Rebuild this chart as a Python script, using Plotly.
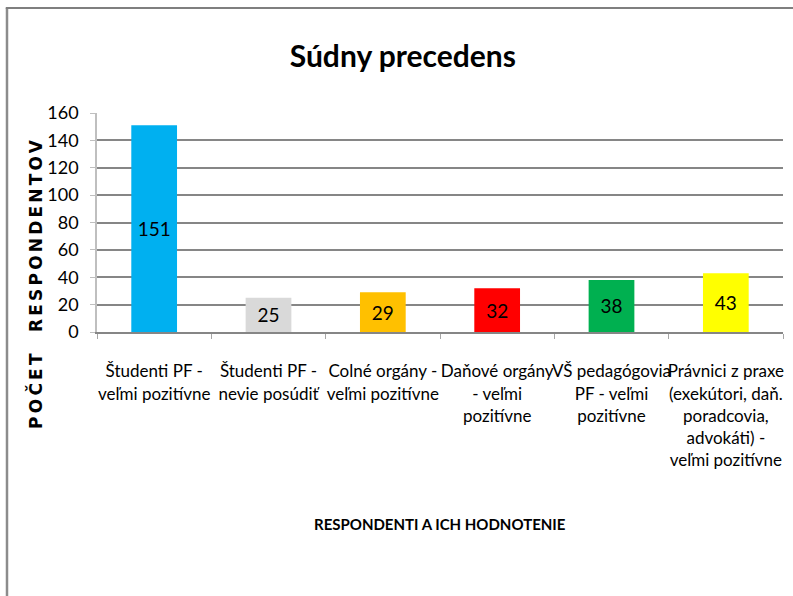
import plotly.graph_objects as go

categories = [
    "Študenti PF -<br>veľmi pozitívne",
    "Študenti PF -<br>nevie posúdiť",
    "Colné orgány -<br>veľmi pozitívne",
    "Daňové orgány<br>- veľmi<br>pozitívne",
    "VŠ pedagógovia<br>PF - veľmi<br>pozitívne",
    "Právnici z praxe<br>(exekútori, daň.<br>poradcovia,<br>advokáti) -<br>veľmi pozitívne",
]
values = [151, 25, 29, 32, 38, 43]
bar_colors = ["#00B0F0", "#D9D9D9", "#FFC000", "#FF0000", "#00B050", "#FFFF00"]
y_ticks = [0, 20, 40, 60, 80, 100, 120, 140, 160]

font_main = "Lato, Liberation Sans, sans-serif"

fig = go.Figure(
    go.Bar(
        x=categories,
        y=values,
        marker=dict(color=bar_colors, line=dict(width=0)),
        text=values,
        textposition="inside",
        insidetextanchor="middle",
        textangle=0,
        textfont=dict(family=font_main, size=19, color="black"),
    )
)

fig.update_xaxes(
    automargin=False,
    tickangle=0,
    showgrid=False,
    showline=True,
    linecolor="#868686",
    linewidth=2,
    ticks="outside",
    tickson="boundaries",
    ticklen=5,
    tickcolor="#A6A6A6",
    tickfont=dict(family=font_main, size=17, color="black"),
    ticklabelstandoff=23,
)

fig.update_yaxes(
    automargin=False,
    range=[0, 160],
    tickvals=y_ticks,
    showgrid=True,
    gridcolor="#868686",
    gridwidth=1.5,
    zeroline=False,
    showline=True,
    linecolor="#BFBFBF",
    linewidth=1.5,
    ticks="outside",
    ticklen=5,
    tickcolor="#BFBFBF",
    tickfont=dict(family=font_main, size=18, color="black"),
    ticklabelstandoff=8,
)

fig.add_annotation(
    text='<b><span style="letter-spacing:3.2px">POČET  RESPONDENTOV</span></b>',
    xref="paper", yref="paper",
    x=-0.089, y=0.224,
    xanchor="center", yanchor="middle",
    textangle=-90,
    showarrow=False,
    font=dict(family="DejaVu Sans", size=17, color="black"),
)
fig.add_annotation(
    text="<b>RESPONDENTI A ICH HODNOTENIE</b>",
    xref="paper", yref="paper",
    x=0.5, y=-0.875,
    xanchor="center", yanchor="middle",
    showarrow=False,
    font=dict(family=font_main, size=15, color="black"),
)

# outer chart frame (left and top edges visible)
fig.add_shape(type="line", xref="paper", yref="paper",
              x0=-0.1312, x1=-0.1312, y0=1.479, y1=-1.3,
              line=dict(color="#8C8C8C", width=2.5))
fig.add_shape(type="line", xref="paper", yref="paper",
              x0=-0.133, x1=1.03, y0=1.479, y1=1.479,
              line=dict(color="#7F7F7F", width=2))

fig.update_layout(
    title=dict(
        text="<b>Súdny precedens</b>",
        x=0.508, xanchor="center",
        y=0.905, yanchor="middle",
        font=dict(family=font_main, size=30, color="black"),
    ),
    width=793,
    height=596,
    margin=dict(l=97, r=10, t=113, b=264),
    bargap=0.6,
    plot_bgcolor="white",
    paper_bgcolor="white",
    showlegend=False,
)

fig.write_html(
    "out.html",
    config={"displayModeBar": False},
    post_script="document.body.style.margin = '0px';",
)
